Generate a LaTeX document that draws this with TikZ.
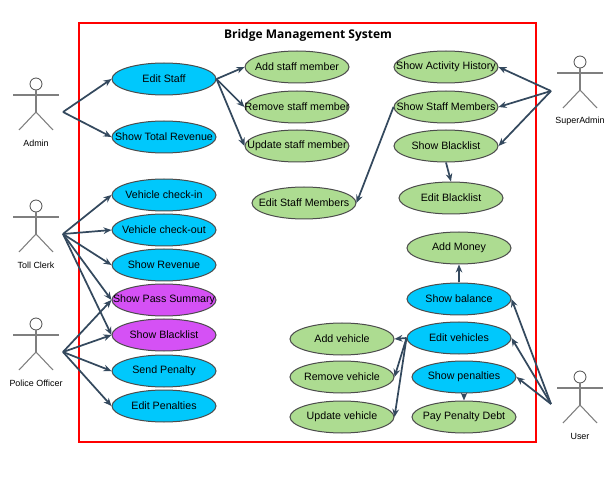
\documentclass[tikz,border=0pt]{standalone}
\usepackage{fontspec}
\setmainfont{Liberation Sans}
\newfontfamily\titlefont{Open Sans}
\usetikzlibrary{shapes.geometric,arrows.meta}

\definecolor{bluecase}{HTML}{00C8FC}
\definecolor{greencase}{HTML}{ADDC91}
\definecolor{purplecase}{HTML}{D551F5}
\definecolor{linkcol}{HTML}{34495E}
\definecolor{stickcol}{HTML}{7F7F7F}

\tikzset{
  usecase/.style={ellipse,draw=black!70,line width=.75pt,minimum width=78pt,minimum height=24pt,inner sep=0pt,font=\fontsize{8}{10}\selectfont},
  link/.style={draw=linkcol,line width=1.3pt,-{Stealth[length=6pt,width=5pt]}},
  stick/.style={draw=stickcol,line width=.8pt},
  actorname/.style={font=\fontsize{6.7}{8}\selectfont}
}

% label that leaves the ellipse at its minimum size
\newcommand{\uc}[1]{\makebox[0pt]{\raisebox{-.6pt}{#1}}}

% #1 name, #2 x, #3 y of the head, #4 label
\newcommand{\stickman}[4]{
  \node[circle,draw=black!70,line width=.6pt,fill=white,minimum size=9pt,inner sep=0pt] (#1) at (#2,#3) {};
  \coordinate (#1hip) at (#2,#3+28);
  \draw[stick] (#1) -- (#1hip);
  \draw[stick] (#2-23,#3+11) -- (#2+23,#3+11);
  \draw[stick] (#2-17,#3+46) -- (#1hip) -- (#2+17,#3+46);
  \node[actorname] (#1name) at (#2,#3+59) {#4};
}

\begin{document}
\begin{tikzpicture}[x=.75pt,y=-.75pt]
  \useasboundingbox (0,0) rectangle (614,477);

  \draw[red,line width=1.6pt] (79,23) rectangle (536,442);
  \node[font=\titlefont\bfseries\fontsize{9}{11}\selectfont] (title) at (308,35) {Bridge Management System};

  \stickman{admin}{36}{84}{Admin}
  \stickman{clerk}{36}{206}{Toll Clerk}
  \stickman{police}{36}{324}{Police Officer}
  \stickman{super}{580}{62}{SuperAdmin}
  \stickman{user}{580}{377}{User}

  \coordinate (adminend) at (63,112);
  \coordinate (clerkend) at (63,234);
  \coordinate (policeend) at (63,352);
  \coordinate (superend) at (551,91);
  \coordinate (userend) at (551,404);

  \begin{scope}[every node/.style={usecase,fill=bluecase}]
    \node (editstaff)  at (164,79)  {\uc{Edit Staff}};
    \node (revenue)    at (164,137) {\uc{Show Total Revenue}};
    \node (checkin)    at (164,195) {\uc{Vehicle check-in}};
    \node (checkout)   at (164,230) {\uc{Vehicle check-out}};
    \node (showrev)    at (164,265) {\uc{Show Revenue}};
    \node (penalty)    at (164,371) {\uc{Send Penalty}};
    \node (editpen)    at (164,406) {\uc{Edit Penalties}};
    \node (balance)    at (459,299) {\uc{Show balance}};
    \node (editveh)    at (459,338) {\uc{Edit vehicles}};
    \node (showpen)    at (464,377) {\uc{Show penalties}};
  \end{scope}

  \begin{scope}[every node/.style={usecase,fill=purplecase}]
    \node (summary)    at (164,300) {\uc{Show Pass Summary}};
    \node (blacklist)  at (164,335) {\uc{Show Blacklist}};
  \end{scope}

  \begin{scope}[every node/.style={usecase,fill=greencase}]
    \node (addstaff)   at (297,67)  {\uc{Add staff member}};
    \node (remstaff)   at (297,107) {\uc{Remove staff member}};
    \node (updstaff)   at (297,146) {\uc{Update staff member}};
    \node (editmem)    at (304,203) {\uc{Edit Staff Members}};
    \node (history)    at (446,67)  {\uc{Show Activity History}};
    \node (members)    at (446,107) {\uc{Show Staff Members}};
    \node (superblack) at (446,146) {\uc{Show Blacklist}};
    \node (editblack)  at (451,198) {\uc{Edit Blacklist}};
    \node (addmoney)   at (459,248) {\uc{Add Money}};
    \node (addveh)     at (342,339) {\uc{Add vehicle}};
    \node (remveh)     at (342,377) {\uc{Remove vehicle}};
    \node (updveh)     at (342,417) {\uc{Update vehicle}};
    \node (paydebt)    at (464,417) {\uc{Pay Penalty Debt}};
  \end{scope}

  \begin{scope}[every edge/.style={link}]
    \path (adminend) edge (editstaff.west);
    \path (adminend) edge (revenue.west);
    \path (clerkend) edge (checkin.west);
    \path (clerkend) edge (checkout.west);
    \path (clerkend) edge (showrev.west);
    \path (clerkend) edge (summary.west);
    \path (clerkend) edge (blacklist.west);
    \path (policeend) edge (summary.west);
    \path (policeend) edge (blacklist.west);
    \path (policeend) edge (penalty.west);
    \path (policeend) edge (editpen.west);
    \path (editstaff.east) edge (addstaff.west);
    \path (editstaff.east) edge (remstaff.west);
    \path (editstaff.east) edge (updstaff.west);
    \path (members.west) edge (editmem.east);
    \path (superend) edge (history.east);
    \path (superend) edge (members.east);
    \path (superend) edge (superblack.east);
    \path (superblack.south) edge (editblack.north);
    \path (balance.north) edge (addmoney.south);
    \path (editveh.west) edge (addveh.east);
    \path (editveh.west) edge (remveh.east);
    \path (editveh.west) edge (updveh.east);
    \path (showpen.south) edge (paydebt.north);
    \path (userend) edge (balance.east);
    \path (userend) edge (editveh.east);
    \path (userend) edge (showpen.east);
  \end{scope}
\end{tikzpicture}
\end{document}
